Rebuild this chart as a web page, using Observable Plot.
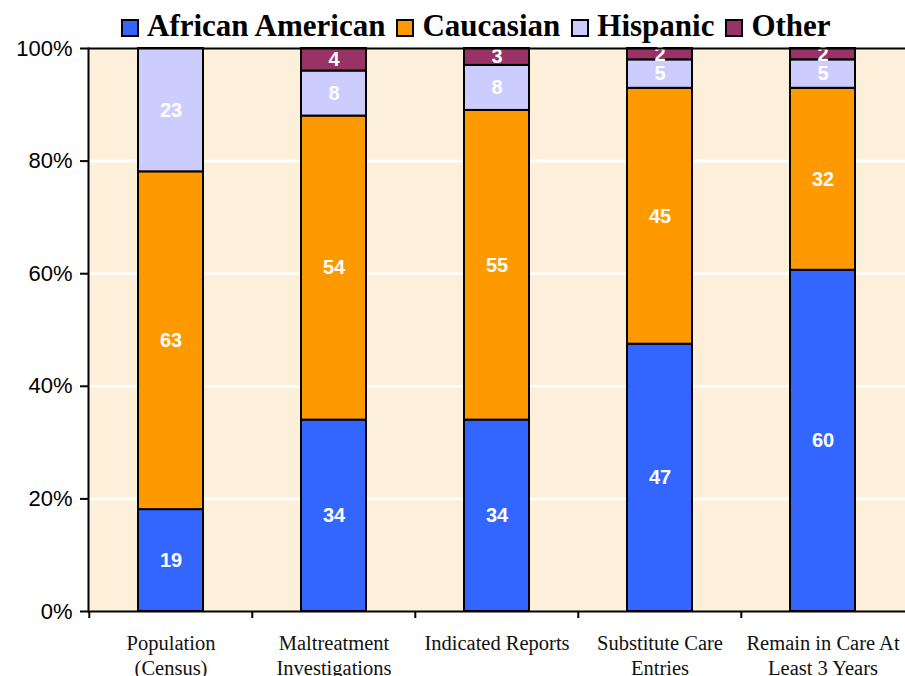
<!DOCTYPE html>
<html>
<head>
<meta charset="utf-8">
<script src="https://cdn.jsdelivr.net/npm/d3@7"></script>
<script src="https://cdn.jsdelivr.net/npm/@observablehq/plot@0.6"></script>
<style>
  html, body { margin: 0; padding: 0; background: #fff; }
  #wrap { position: relative; width: 905px; height: 676px; overflow: hidden; }
  #legend { position: absolute; left: 121px; top: -3px; height: 48px; display: flex; align-items: flex-start; }
  .item { display: flex; align-items: flex-end; margin-right: 11px; height: 44px; }
  .sw { width: 14px; height: 14px; border: 2px solid #000; margin-right: 8px; margin-bottom: 4px; }
  .lab { font-family: "Liberation Serif", serif; font-weight: bold; font-size: 31px; line-height: 31px; color: #000; }
  #plot svg { display: block; }
</style>
</head>
<body>
<div id="wrap">
  <div id="plot"></div>
  <div id="legend"></div>
</div>
<script>
const categories = ["Population (Census)", "Maltreatment Investigations", "Indicated Reports", "Substitute Care Entries", "Remain in Care At Least 3 Years"];
const xLabels = ["Population\n(Census)", "Maltreatment\nInvestigations", "Indicated Reports", "Substitute Care\nEntries", "Remain in Care At\nLeast 3 Years"];
const series = ["African American", "Caucasian", "Hispanic", "Other"];
const africanAmerican = [19, 34, 34, 47, 60];
const caucasian = [63, 54, 55, 45, 32];
const hispanic = [23, 8, 8, 5, 5];
const other = [null, 4, 3, 2, 2];
const colors = ["#3366FF", "#FF9900", "#CCCCFF", "#993366"];
const yTicks = [0, 0.2, 0.4, 0.6, 0.8, 1];

const seriesValues = [africanAmerican, caucasian, hispanic, other];
const rows = [];
categories.forEach((c, i) => {
  series.forEach((s, j) => {
    const v = seriesValues[j][i];
    if (v != null) rows.push({category: c, series: s, value: v});
  });
});

const W = 905, H = 676, mL = 88, mR = 0, mT = 48, mB = 65;
const pIn = 0.6, pOut = 0.3;
const step = (W - mL - mR) / (categories.length - pIn + 2 * pOut);

const chart = Plot.plot({
  width: W, height: H,
  marginLeft: mL, marginRight: mR, marginTop: mT, marginBottom: mB,
  style: {background: "transparent", overflow: "visible"},
  x: {domain: categories, paddingInner: pIn, paddingOuter: pOut, axis: null},
  y: {domain: [0, 1], axis: null},
  color: {domain: series, range: colors},
  marks: [
    Plot.frame({fill: "#FCF0DA", stroke: null}),
    Plot.ruleY(yTicks.filter(d => d > 0 && d < 1), {stroke: "white", strokeWidth: 2.5}),
    Plot.barY(rows, {x: "category", y: "value", fill: "series", z: "series", order: series, offset: "normalize", stroke: "black", strokeWidth: 2}),
    Plot.text(rows, Plot.stackY({x: "category", y: "value", z: "series", order: series, offset: "normalize", text: d => String(d.value), fill: "white", fontWeight: "bold", fontSize: 20, fontFamily: "Liberation Sans, Arial, sans-serif"})),
    Plot.ruleY([0, 1], {stroke: "black", strokeWidth: 2}),
    Plot.frame({anchor: "left", stroke: "black", strokeWidth: 2}),
    Plot.axisY({ticks: yTicks, tickFormat: d3.format(".0%"), tickSize: 8, tickPadding: 8, fontSize: 22, fontFamily: "Liberation Sans, Arial, sans-serif", strokeWidth: 2, label: null, color: "black"}),
    Plot.axisX({tickSize: 7, tickFormat: () => "", dx: -step / 2, strokeWidth: 2, label: null, color: "black"}),
    Plot.axisX({tickSize: 0, tickPadding: 21, tickFormat: d => xLabels[categories.indexOf(d)], fontSize: 20.5, fontFamily: "Liberation Serif, serif", lineHeight: 1.22, label: null, color: "#111"})
  ]
});
document.getElementById("plot").appendChild(chart);

const legend = d3.select("#legend");
series.forEach((s, i) => {
  const it = legend.append("div").attr("class", "item");
  it.append("div").attr("class", "sw").style("background", colors[i]);
  it.append("div").attr("class", "lab").text(s);
});
</script>
</body>
</html>
